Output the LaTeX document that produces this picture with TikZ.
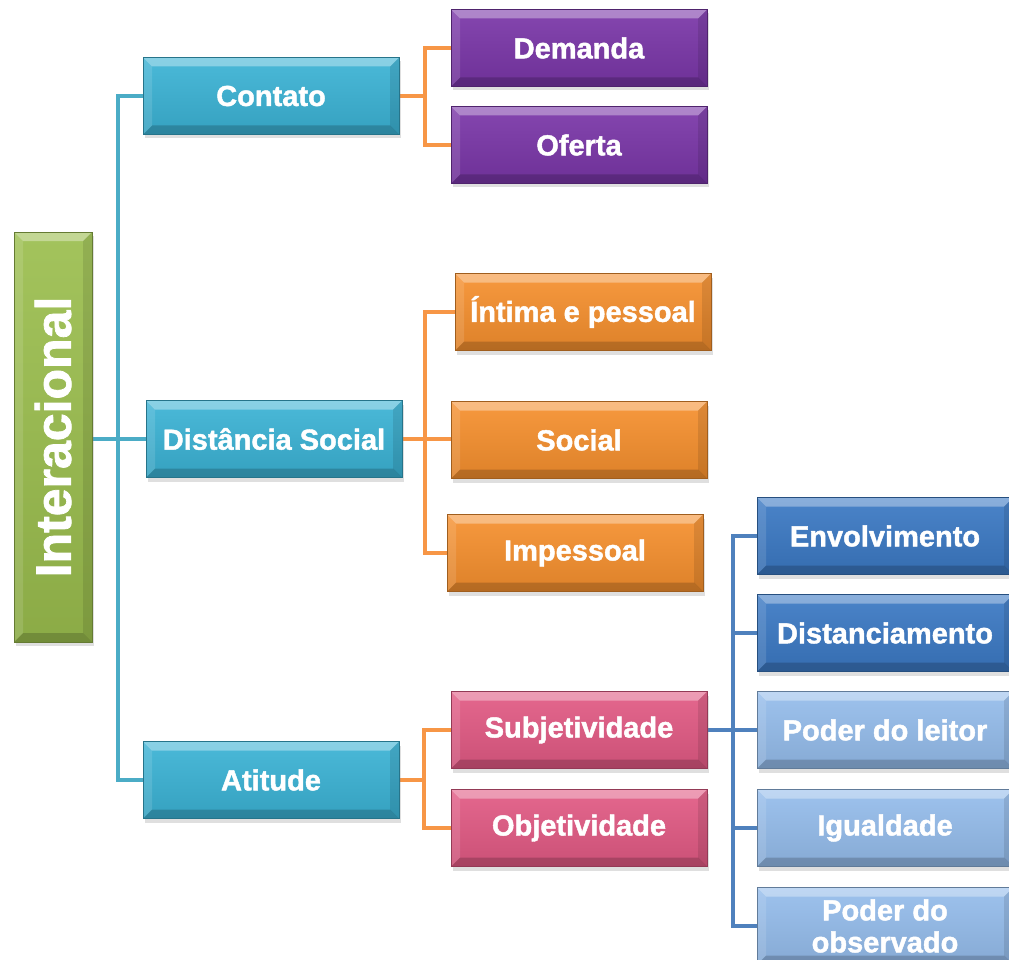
\documentclass[tikz,border=0pt]{standalone}
\usepackage{fontspec}
\setmainfont{Liberation Sans}[BoldFeatures={FakeBold=1.5}]
\usepackage{graphicx}
\usetikzlibrary{shadows}
\pgfdeclarelayer{background}
\pgfsetlayers{background,main}
\definecolor{cteal}{HTML}{3BB3D5}
\definecolor{cpurple}{HTML}{7A36A8}
\definecolor{corange}{HTML}{F6902E}
\definecolor{cpink}{HTML}{E25A84}
\definecolor{cdblue}{HTML}{3B79C4}
\definecolor{clblue}{HTML}{95BDEC}
\definecolor{cgreen}{HTML}{9BBE4E}
\definecolor{lteal}{HTML}{4BACC6}
\definecolor{lorange}{HTML}{F79646}
\definecolor{lblue}{HTML}{4F81BD}
\tikzset{
  bevels/.style={path picture={
    \fill[white,opacity=0.35] (path picture bounding box.north west) -- (path picture bounding box.north east) -- ([xshift=-9pt,yshift=-9pt]path picture bounding box.north east) -- ([xshift=9pt,yshift=-9pt]path picture bounding box.north west) -- cycle;
    \fill[black,opacity=0.18] (path picture bounding box.south west) -- (path picture bounding box.south east) -- ([xshift=-9pt,yshift=9pt]path picture bounding box.south east) -- ([xshift=9pt,yshift=9pt]path picture bounding box.south west) -- cycle;
    \fill[white,opacity=0.12] (path picture bounding box.north west) -- ([xshift=9pt,yshift=-9pt]path picture bounding box.north west) -- ([xshift=9pt,yshift=9pt]path picture bounding box.south west) -- (path picture bounding box.south west) -- cycle;
    \fill[black,opacity=0.10] (path picture bounding box.north east) -- ([xshift=-9pt,yshift=-9pt]path picture bounding box.north east) -- ([xshift=-9pt,yshift=9pt]path picture bounding box.south east) -- (path picture bounding box.south east) -- cycle;
  }},
  bx/.style={rectangle, minimum width=256pt, minimum height=77pt, inner sep=0pt,
    align=center, text=white, font=\bfseries\fontsize{29}{32}\selectfont,
    top color=#1!92!white, bottom color=#1!90!black, draw=#1!65!black, line width=0.6pt,
    drop shadow={shadow xshift=2pt, shadow yshift=-4pt, opacity=0.25},
    bevels},
  conn/.style={line width=4pt, draw=#1},
}
\begin{document}
\begin{tikzpicture}[x=1pt,y=-1pt]
\useasboundingbox (0,0) rectangle (1009,960);
\clip (0,0) rectangle (1009,960);
% root
\node[bx=cgreen, minimum width=78pt, minimum height=410pt, font=\bfseries\fontsize{50}{52}\selectfont] (inter) at (53,437) {\rotatebox{90}{Interacional}};
% level 1
\node[bx=cteal] (cont) at (271,96) {Contato};
\node[bx=cteal] (dist) at (274,439) {Distância Social};
\node[bx=cteal] (att) at (271,780) {Atitude};
% level 2
\node[bx=cpurple] (dem) at (579,48) {Demanda};
\node[bx=cpurple] (ofe) at (579,145) {Oferta};
\node[bx=corange] (int) at (583,312) {Íntima e pessoal};
\node[bx=corange] (soc) at (579,440) {Social};
\node[bx=corange] (imp) at (575,553) {Impessoal};
\node[bx=cpink] (sub) at (579,730) {Subjetividade};
\node[bx=cpink] (obj) at (579,828) {Objetividade};
% level 3
\node[bx=cdblue] (env) at (885,536) {Envolvimento};
\node[bx=cdblue] (dis) at (885,633) {Distanciamento};
\node[bx=clblue] (lei) at (885,730) {Poder do leitor};
\node[bx=clblue] (igu) at (885,828) {Igualdade};
\node[bx=clblue] (obs) at (885,926) {Poder do\\observado};
% junctions
\coordinate (jt) at (118,439);
\coordinate (j1) at (425,96);
\coordinate (j2) at (425,439);
\coordinate (j3) at (424,780);
\coordinate (j4) at (733,730);
\begin{pgfonlayer}{background}
\draw[conn=lteal] (inter.east |- jt) -- (dist.west);
\draw[conn=lteal] (cont.west) -| (jt) |- (att.west);
\draw[conn=lorange] (cont.east) -- (j1);
\draw[conn=lorange] (dem.west) -| (j1) |- (ofe.west);
\draw[conn=lorange] (dist.east) -- (j2);
\draw[conn=lorange] (int.west) -| (j2) |- (imp.west);
\draw[conn=lorange] (j2) -- (j2 -| soc.west);
\draw[conn=lorange] (att.east) -- (j3);
\draw[conn=lorange] (sub.west) -| (j3) |- (obj.west);
\draw[conn=lblue] (sub.east) -- (lei.west);
\draw[conn=lblue] (env.west) -| (j4) |- (obs.west);
\draw[conn=lblue] (dis.west) -- (dis.west -| j4);
\draw[conn=lblue] (igu.west) -- (igu.west -| j4);
\end{pgfonlayer}
\end{tikzpicture}
\end{document}
